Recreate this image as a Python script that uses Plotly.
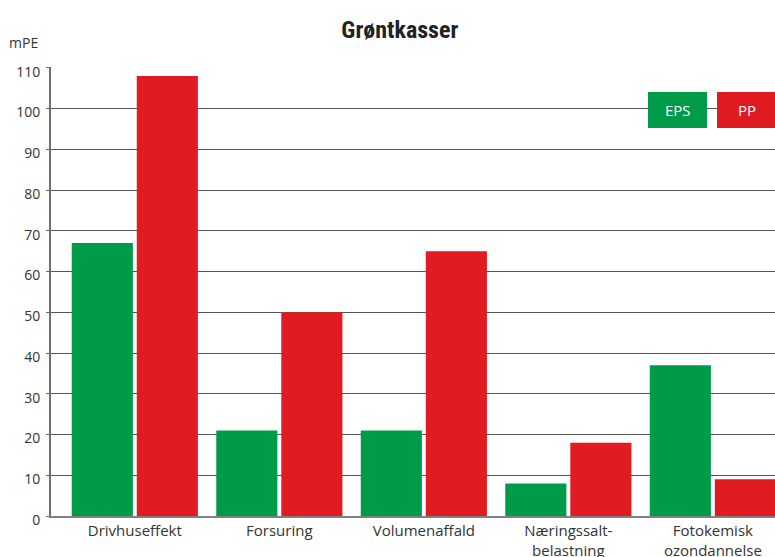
import plotly.graph_objects as go

categories = ["Drivhuseffekt", "Forsuring", "Volumenaffald", "Næringssalt-<br>belastning", "Fotokemisk<br>ozondannelse"]
eps_values = [67, 21, 21, 8, 37]
pp_values = [108, 50, 65, 18, 9]
y_ticks = [0, 10, 20, 30, 40, 50, 60, 70, 80, 90, 100, 110]

GREEN = "#009B48"
RED = "#E11B22"
FONT = "Open Sans, Noto Sans, sans-serif"

fig = go.Figure()
fig.add_trace(go.Bar(name="EPS", x=categories, y=eps_values, marker=dict(color=GREEN, line=dict(width=0))))
fig.add_trace(go.Bar(name="PP", x=categories, y=pp_values, marker=dict(color=RED, line=dict(width=0))))

fig.update_layout(
    width=775, height=557,
    margin=dict(l=51, r=0, t=67, b=41),
    paper_bgcolor="white", plot_bgcolor="white",
    barmode="group", bargap=0.1, bargroupgap=0.06,
    showlegend=False,
    font=dict(family=FONT, size=13, color="#333333"),
    title=dict(text="<b>Grøntkasser</b>", x=0.516, xanchor="center", y=0.946, yanchor="middle",
               font=dict(family="Liberation Sans Narrow, Roboto Condensed, Roboto, sans-serif", size=24, color="#222222")),
)
fig.update_xaxes(
    range=[-0.58, 4.43], showgrid=False, showline=True, linecolor="#808080", linewidth=2,
    ticks="", tickfont=dict(size=15, color="#333333"), automargin=False,
)
fig.update_yaxes(
    range=[0, 110.2], tickvals=y_ticks, showgrid=True, gridcolor="#555555", gridwidth=1,
    showline=True, linecolor="#6e6e6e", linewidth=2, ticks="outside", ticklen=3, tickcolor="#6e6e6e",
    tickfont=dict(size=14, color="#333333"), zeroline=False, automargin=False,
    ticklabelshift=4, ticklabelstandoff=3,
)

fig.add_annotation(xref="paper", yref="paper", x=0, y=1, xanchor="right", yanchor="bottom",
                   text="mPE", showarrow=False, font=dict(size=14, color="#333333"), xshift=-11, yshift=13)

for label, color, x0 in [("EPS", GREEN, 648), ("PP", RED, 717)]:
    fig.add_shape(type="rect", xref="paper", yref="paper",
                  x0=(x0 - 51) / 724, x1=(x0 + 59 - 51) / 724,
                  y0=(516 - 128) / 449, y1=(516 - 92) / 449,
                  fillcolor=color, line=dict(width=0), layer="above")
    fig.add_annotation(xref="paper", yref="paper", x=(x0 + 29.5 - 51) / 724, y=(516 - 110) / 449,
                       text=label, showarrow=False, font=dict(size=15, color="white"),
                       xanchor="center", yanchor="middle")

fig.write_html("out.html", config={"displayModeBar": False},
               post_script="document.body.style.margin='0';document.body.style.overflow='hidden';")
